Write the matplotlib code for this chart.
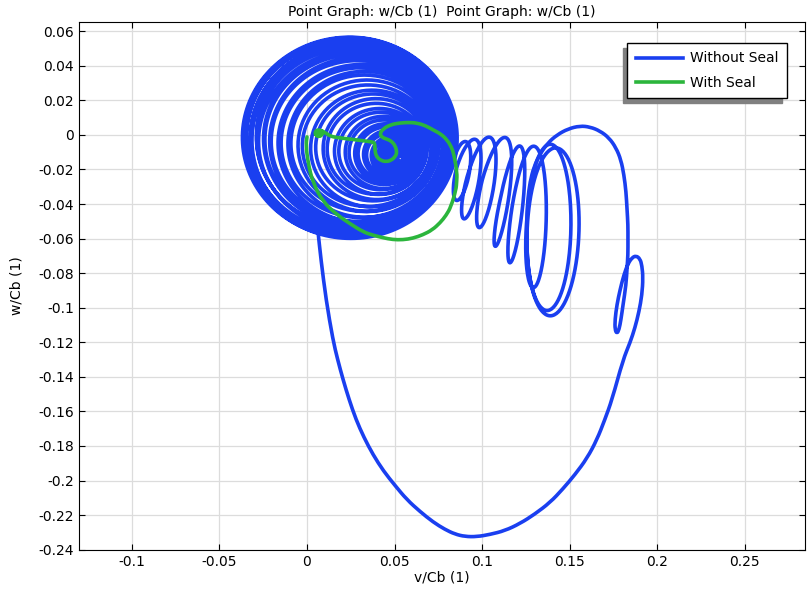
import numpy as np
import matplotlib.pyplot as plt
from matplotlib.path import Path
from matplotlib.patches import PathPatch
from matplotlib.lines import Line2D
from matplotlib.ticker import FuncFormatter

# whirl around the centre, one entry per revolution (outer -> inner)
whirl_r = [0.0600, 0.0596, 0.0591, 0.0586, 0.0580, 0.0574, 0.0567, 0.0560,
           0.0552, 0.0544, 0.0535, 0.0525, 0.0514, 0.0502,
           0.0488, 0.0472, 0.0455, 0.0436, 0.0416, 0.0395, 0.0373, 0.0350,
           0.0327, 0.0304, 0.0281, 0.0259, 0.0238,
           0.0218, 0.0199, 0.0181, 0.0164, 0.0148, 0.0133, 0.0119, 0.0106,
           0.0094, 0.0083, 0.0073, 0.0064, 0.0055, 0.0047, 0.0039, 0.0031,
           0.0023, 0.0015]
whirl_cx = [0.0240, 0.0252, 0.0236, 0.0253, 0.0238, 0.0264, 0.0253, 0.0250,
            0.0276, 0.0265, 0.0262, 0.0287, 0.0277, 0.0299,
            0.0284, 0.0314, 0.0307, 0.0334, 0.0323, 0.0348, 0.0343, 0.0373,
            0.0373, 0.0399, 0.0392, 0.0417, 0.0416,
            0.0437, 0.0436, 0.0454, 0.0452, 0.0471, 0.0470, 0.0486, 0.0484,
            0.0496, 0.0495, 0.0507, 0.0506, 0.0515, 0.0515, 0.0522, 0.0525,
            0.0529, 0.0533]
whirl_cy = [-0.0010, -0.0021, -0.0004, -0.0018, -0.0003, -0.0024, -0.0013, -0.0031,
            -0.0014, -0.0012, -0.0033, -0.0025, -0.0018, -0.0040,
            -0.0026, -0.0049, -0.0036, -0.0054, -0.0038, -0.0060, -0.0051, -0.0077,
            -0.0063, -0.0079, -0.0070, -0.0093, -0.0085,
            -0.0099, -0.0093, -0.0106, -0.0101, -0.0112, -0.0109, -0.0120, -0.0116,
            -0.0123, -0.0121, -0.0128, -0.0126, -0.0131, -0.0131, -0.0133, -0.0135,
            -0.0137, -0.0139]

# loops leaving the whirl towards the right
wave_cx = [0.0870, 0.0900, 0.0965, 0.1060, 0.1150, 0.1222, 0.1359, 0.1405]
wave_cy = [-0.0180, -0.0214, -0.0266, -0.0272, -0.0370, -0.0416, -0.0486, -0.0561]
wave_rx = [0.0040, 0.0050, 0.0055, 0.0060, 0.0045, 0.0050, 0.0103, 0.0148]
wave_ry = [0.0140, 0.0190, 0.0254, 0.0277, 0.0312, 0.0347, 0.0439, 0.0486]
wave_tilt = [10, 12, 12, 11, 9, 7, 3, 2]

# big excursion: over the top, small loop, down and back into the whirl
swing_v = [0.1256, 0.1256, 0.1262, 0.1274, 0.1296, 0.1331, 0.1376, 0.1428,
           0.1491, 0.1559, 0.1616, 0.1673, 0.1725, 0.1765, 0.1793, 0.1810,
           0.1822, 0.1828, 0.1833, 0.1833, 0.1833, 0.1828, 0.1822, 0.1805,
           0.1793, 0.1782, 0.1770, 0.1759, 0.1759, 0.1770, 0.1788, 0.1810,
           0.1833, 0.1856, 0.1879, 0.1902, 0.1913, 0.1919, 0.1913, 0.1896,
           0.1873, 0.1845, 0.1805, 0.1742, 0.1700, 0.1656, 0.1600, 0.1531,
           0.1460, 0.1388, 0.1300, 0.1216, 0.1130, 0.1045, 0.0970, 0.0902,
           0.0845, 0.0788, 0.0720, 0.0645, 0.0570, 0.0503, 0.0437, 0.0377,
           0.0325, 0.0280, 0.0240, 0.0206, 0.0175, 0.0148, 0.0109, 0.0080,
           0.0063]
swing_w = [-0.0561, -0.0462, -0.0364, -0.0272, -0.0185, -0.0110, -0.0046, 0.0000,
           0.0035, 0.0052, 0.0046, 0.0023, -0.0017, -0.0075, -0.0145, -0.0231,
           -0.0329, -0.0434, -0.0520, -0.0607, -0.0694, -0.0769, -0.0867, -0.0983,
           -0.1069, -0.1127, -0.1150, -0.1127, -0.1069, -0.0983, -0.0896, -0.0809,
           -0.0746, -0.0711, -0.0699, -0.0717, -0.0757, -0.0827, -0.0925, -0.1023,
           -0.1116, -0.1202, -0.1301, -0.1532, -0.1650, -0.1763, -0.1870, -0.1965,
           -0.2050, -0.2127, -0.2195, -0.2249, -0.2290, -0.2312, -0.2325, -0.2324,
           -0.2310, -0.2283, -0.2240, -0.2179, -0.2110, -0.2029, -0.1945, -0.1850,
           -0.1750, -0.1647, -0.1530, -0.1416, -0.1300, -0.1185, -0.0954, -0.0723,
           -0.0561]

# with seal
seal_v = [0.0065, 0.0080, 0.0065, 0.0050, 0.0065, 0.0090, 0.0065, 0.0040,
          0.0065, 0.0095, 0.0070, 0.0045, 0.0075, 0.0105, 0.0135, 0.0170,
          0.0210, 0.0250, 0.0290, 0.0330, 0.0365, 0.0388, 0.0388, 0.0400,
          0.0423, 0.0450, 0.0480, 0.0505, 0.0514, 0.0503, 0.0480, 0.0457,
          0.0430, 0.0415, 0.0434, 0.0480, 0.0531, 0.0580, 0.0628, 0.0680,
          0.0720, 0.0765, 0.0800, 0.0825, 0.0840, 0.0857, 0.0855, 0.0851,
          0.0822, 0.0795, 0.0760, 0.0715, 0.0662, 0.0605, 0.0548, 0.0490,
          0.0434, 0.0375, 0.0320, 0.0246, 0.0171, 0.0091, 0.0034, 0.0006,
          -0.0006, 0.0000]
seal_w = [0.0020, 0.0010, -0.0002, 0.0010, 0.0025, 0.0010, -0.0010, 0.0010,
          0.0035, 0.0012, -0.0015, 0.0005, 0.0030, 0.0012, -0.0008, -0.0015,
          -0.0020, -0.0025, -0.0030, -0.0035, -0.0040, -0.0045, -0.0098, -0.0130,
          -0.0148, -0.0155, -0.0148, -0.0125, -0.0100, -0.0060, -0.0035, -0.0025,
          -0.0015, 0.0005, 0.0035, 0.0060, 0.0069, 0.0072, 0.0069, 0.0052,
          0.0029, 0.0005, -0.0029, -0.0070, -0.0116, -0.0220, -0.0270, -0.0318,
          -0.0416, -0.0465, -0.0509, -0.0550, -0.0578, -0.0598, -0.0607, -0.0606,
          -0.0595, -0.0580, -0.0561, -0.0514, -0.0462, -0.0387, -0.0277, -0.0162,
          -0.0058, -0.0012]

x_ticks = [-0.1, -0.05, 0, 0.05, 0.1, 0.15, 0.2, 0.25]
y_ticks = [0.06, 0.04, 0.02, 0, -0.02, -0.04, -0.06, -0.08, -0.1, -0.12,
           -0.14, -0.16, -0.18, -0.2, -0.22, -0.24]

BLUE = '#1a3ff0'
GREEN = '#2bb53c'
LW = 2.6


def loops(cx, cy, rx, ry, tilt, start, steps=160):
    # one clockwise revolution per entry, morphing into the next entry's shape
    cx, cy, rx, ry = map(np.asarray, (cx, cy, rx, ry))
    tilt = np.radians(np.asarray(tilt, dtype=float))
    n = len(cx)
    vs, ws = [], []
    k = np.linspace(0, 1, steps)
    th = start - 2 * np.pi * k
    for i in range(n):
        j = min(i + 1, n - 1)
        p = [a[i] + (a[j] - a[i]) * k for a in (cx, cy, rx, ry, tilt)]
        X = p[2] * np.cos(th)
        Y = p[3] * np.sin(th)
        vs.append(p[0] + X * np.cos(p[4]) + Y * np.sin(p[4]))
        ws.append(p[1] - X * np.sin(p[4]) + Y * np.cos(p[4]))
    return np.concatenate(vs), np.concatenate(ws)


def smooth(v, w):
    # quadratic bezier path through the midpoints of the traced points
    pts = np.column_stack([v, w])
    mids = (pts[:-1] + pts[1:]) / 2
    verts = [pts[0], mids[0]]
    codes = [Path.MOVETO, Path.LINETO]
    for i in range(1, len(pts) - 1):
        verts += [pts[i], mids[i]]
        codes += [Path.CURVE3, Path.CURVE3]
    verts.append(pts[-1])
    codes.append(Path.LINETO)
    return Path(verts, codes)


wv, ww = loops(wave_cx, wave_cy, wave_rx, wave_ry, wave_tilt, np.pi)
r = np.asarray(whirl_r)
cv, cw = loops(whirl_cx, whirl_cy, r * 1.02, r * 0.97, np.zeros(len(r)), -1.85)

fig = plt.figure(figsize=(8.07, 5.89), dpi=100)
ax = fig.add_axes([0.0979, 0.0662, 0.8996, 0.8964])

ax.plot(wv, ww, color=BLUE, lw=LW, solid_joinstyle='round', zorder=3)
ax.plot(cv, cw, color=BLUE, lw=LW, solid_joinstyle='round', zorder=3)
ax.add_patch(PathPatch(smooth(swing_v, swing_w), fill=False, edgecolor=BLUE,
                       lw=LW, joinstyle='round', capstyle='round', zorder=3))
ax.add_patch(PathPatch(smooth(seal_v, seal_w), fill=False, edgecolor=GREEN,
                       lw=LW, joinstyle='round', capstyle='round', zorder=4))

ax.set_xlim(-0.1302, 0.2844)
ax.set_ylim(-0.2402, 0.0653)
ax.set_xticks(x_ticks)
ax.set_yticks(y_ticks)
fmt = FuncFormatter(lambda v, p: '{:g}'.format(round(v, 4) + 0.0))
ax.xaxis.set_major_formatter(fmt)
ax.yaxis.set_major_formatter(fmt)
ax.tick_params(direction='in', top=True, right=True, length=4, width=0.8,
               labelsize=10)
ax.grid(True, color='#dcdcdc', lw=0.9, zorder=0)
ax.set_axisbelow(True)

ax.set_title('Point Graph: w/Cb (1)  Point Graph: w/Cb (1)', fontsize=10, pad=4)
ax.set_xlabel('v/Cb (1)', fontsize=10, labelpad=1)
ax.set_ylabel('w/Cb (1)', fontsize=10, labelpad=11)

handles = [Line2D([], [], color=BLUE, lw=LW), Line2D([], [], color=GREEN, lw=LW)]
leg = ax.legend(handles, ['Without Seal', 'With Seal'], loc='upper right',
                bbox_to_anchor=(0.975, 0.960), borderaxespad=0, fancybox=False,
                framealpha=1, edgecolor='black', fontsize=10, handlelength=3.4,
                handletextpad=0.5, labelspacing=0.75, borderpad=0.6,
                shadow={'ox': -3.5, 'oy': -3.5, 'color': '#808080', 'alpha': 1})
leg.get_frame().set_linewidth(1.0)

plt.savefig('out.png', dpi=100)
